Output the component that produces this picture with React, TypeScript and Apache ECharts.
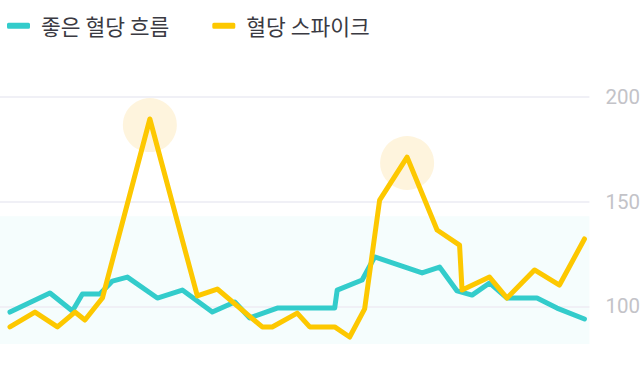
import React, { useEffect, useRef } from "react";
import * as echarts from "echarts";

const goodName = "좋은 혈당 흐름";
const spikeName = "혈당 스파이크";

const goodTimes = [0, 16, 25, 29, 36, 41, 47, 59, 69, 81, 90, 96, 107, 130, 131, 141, 146, 165, 172, 179, 185, 192, 199, 211, 219, 230];
const goodValues = [97.3, 106.4, 97.8, 105.9, 105.9, 112.1, 114, 104, 107.8, 97.3, 102.1, 94.5, 99.2, 99.2, 107.8, 112.6, 123.6, 116, 118.8, 107.4, 105.4, 111.2, 104, 104, 99.2, 94];

const spikeTimes = [0, 10, 19, 26, 30, 37, 56, 75, 83, 101, 105, 115, 120, 130, 136, 142, 148, 159, 171, 180, 181, 192, 199, 210, 220, 230];
const spikeValues = [90.2, 97.3, 90.2, 97.3, 93.5, 104, 189.5, 105, 108.3, 90.2, 90.2, 96.8, 90.2, 90.2, 85.4, 98.8, 150.8, 171.3, 136.5, 129.3, 107.8, 114, 104, 117.4, 110.2, 132.2];

const peakTimes = [56, 159];
const peakValues = [186.6, 168.5];

const rangeTop = 143;
const rangeBottom = 82;

const yTickLabels = [100, 150, 200];
const yRange = { min: 80, max: 200, interval: 10 };

export default function App() {
  const ref = useRef<HTMLDivElement>(null);
  useEffect(() => {
    if (!ref.current) return;
    const chart = echarts.init(ref.current, undefined, { renderer: "svg" });
    const pairs = (t: number[], v: number[]) => t.map((x, i) => [x, v[i]]);
    chart.setOption({
      animation: false,
      grid: { left: 0, right: 52, top: 97, bottom: 41.7, containLabel: false },
      legend: {
        left: 2,
        top: 10,
        itemWidth: 23,
        itemHeight: 6,
        itemGap: 43,
        icon: "roundRect",
        data: [goodName, spikeName],
        textStyle: {
          fontFamily: "'Noto Sans CJK KR', sans-serif",
          fontSize: 21.5,
          color: "#3a3a42",
          padding: [0, 0, 0, 6],
        },
      },
      xAxis: {
        type: "value",
        min: -4,
        max: 232,
        show: false,
      },
      yAxis: {
        type: "value",
        position: "right",
        min: yRange.min,
        max: yRange.max,
        interval: yRange.interval,
        axisLine: { show: false },
        axisTick: { show: false },
        axisLabel: {
          color: "#c3c3c8",
          fontSize: 20.5,
          fontFamily: "Roboto, sans-serif",
          margin: 16,
          formatter: (v: number) => (yTickLabels.indexOf(v) >= 0 ? String(v) : ""),
        },
        splitLine: { show: false },
      },
      series: [
        {
          name: "peaks",
          type: "scatter",
          z: 1,
          silent: true,
          symbol: "circle",
          symbolSize: 54,
          itemStyle: { color: "rgba(250, 196, 80, 0.24)" },
          data: pairs(peakTimes, peakValues),
          markArea: {
            silent: true,
            z: 0,
            itemStyle: { color: "#f5fdfd" },
            data: [[{ yAxis: rangeTop }, { yAxis: rangeBottom }]],
          },
          markLine: {
            silent: true,
            z: 1,
            symbol: "none",
            label: { show: false },
            lineStyle: { type: "solid", color: "#f0f0f6", width: 2 },
            data: yTickLabels.map((v) => ({ yAxis: v })),
          },
        },
        {
          name: goodName,
          type: "line",
          z: 3,
          showSymbol: false,
          symbol: "none",
          color: "#33cccb",
          lineStyle: { width: 5, color: "#33cccb", join: "round", cap: "round" },
          data: pairs(goodTimes, goodValues),
        },
        {
          name: spikeName,
          type: "line",
          z: 4,
          showSymbol: false,
          symbol: "none",
          color: "#fdc800",
          lineStyle: { width: 5, color: "#fdc800", join: "round", cap: "round" },
          data: pairs(spikeTimes, spikeValues),
        },
      ],
    });
    return () => chart.dispose();
  }, []);
  return (
    <div
      ref={ref}
      style={{ position: "absolute", left: 0, top: 0, width: 643, height: 390 }}
    />
  );
}
